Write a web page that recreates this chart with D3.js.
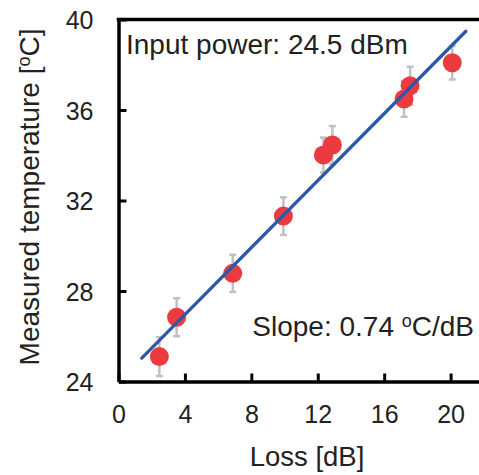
<!DOCTYPE html>
<html lang="en">
<head>
    <meta charset="UTF-8">
    <title>Temperature vs loss</title>
    <script src="https://d3js.org/d3.v7.min.js"></script>
    <style>
        body { margin: 0; background: #fff; }
        text { font-family: "Liberation Sans", Arial, sans-serif; fill: #222; }
        .axis path, .axis line { stroke: #000; }
    </style>
</head>
<body>
    <div id="chart"></div>
    <script>
        // values
        const loss = [2.46, 3.5, 6.88, 9.93, 12.34, 12.88, 17.2, 17.56, 20.1];
        const temp = [25.1, 26.84, 28.78, 31.31, 34.01, 34.45, 36.49, 37.07, 38.09];
        const err = [0.86, 0.84, 0.82, 0.83, 0.77, 0.84, 0.79, 0.84, 0.74];
        const xTicks = [0, 4, 8, 12, 16, 20];
        const yTicks = [24, 28, 32, 36, 40];
        // linear fit drawn in the figure
        const fitRange = [1.4, 20.92];
        const fitSlope = 0.74;
        const fitIntercept = 24.0;

        const W = 479, H = 475;
        const svg = d3.select("#chart").append("svg")
            .attr("width", W).attr("height", H);

        // x runs past the right edge, the original figure is cropped there
        const x = d3.scaleLinear().domain([0, 22]).range([118.5, 483.8]);
        const y = d3.scaleLinear().domain([24, 40]).range([381.5, 19.5]);

        // axes with inward ticks
        const xAxis = svg.append("g")
            .attr("class", "axis")
            .attr("transform", "translate(0," + y(24) + ")")
            .call(d3.axisBottom(x).tickValues(xTicks).tickSizeInner(-8).tickSizeOuter(0).tickPadding(24));
        const yAxis = svg.append("g")
            .attr("class", "axis")
            .attr("transform", "translate(" + x(0) + ",0)")
            .call(d3.axisLeft(y).tickValues(yTicks).tickSizeInner(-8).tickSizeOuter(0).tickPadding(25));

        [xAxis, yAxis].forEach(function(g) {
            g.select(".domain").attr("stroke-width", 3.5);
            g.selectAll(".tick line").attr("stroke-width", 3);
            g.selectAll(".tick text").attr("font-size", 25).style("font-family", "Liberation Sans, Arial, sans-serif").attr("fill", "#222");
        });
        yAxis.selectAll(".tick text").attr("dy", "0.36em");

        // top frame line
        svg.append("line")
            .attr("x1", x(0) - 1.75).attr("x2", x(22))
            .attr("y1", y(40)).attr("y2", y(40))
            .attr("stroke", "#000").attr("stroke-width", 3.5);

        const pts = loss.map(function(d, i) { return {x: d, y: temp[i], e: err[i]}; });

        // error bars
        const eb = svg.append("g").attr("stroke", "#c0c0c0").attr("stroke-width", 2.5);
        pts.forEach(function(p) {
            eb.append("line")
                .attr("x1", x(p.x)).attr("x2", x(p.x))
                .attr("y1", y(p.y - p.e)).attr("y2", y(p.y + p.e));
            [p.y - p.e, p.y + p.e].forEach(function(v) {
                eb.append("line")
                    .attr("x1", x(p.x) - 3.5).attr("x2", x(p.x) + 3.5)
                    .attr("y1", y(v)).attr("y2", y(v));
            });
        });

        // data points
        svg.append("g").selectAll("circle")
            .data(pts)
            .join("circle")
            .attr("cx", function(d) { return x(d.x); })
            .attr("cy", function(d) { return y(d.y); })
            .attr("r", 9.5)
            .attr("fill", "#ec3b40");

        // fit line
        const line = d3.line()
            .x(function(d) { return x(d); })
            .y(function(d) { return y(fitIntercept + fitSlope * d); });
        svg.append("path")
            .datum(fitRange)
            .attr("d", line)
            .attr("fill", "none")
            .attr("stroke", "#2b58a8")
            .attr("stroke-width", 3.3)
            .attr("stroke-linecap", "round");

        // annotations
        svg.append("text")
            .attr("x", 126).attr("y", 54)
            .attr("font-size", 28)
            .text("Input power: 24.5 dBm");

        const slope = svg.append("text")
            .attr("x", 474).attr("y", 336)
            .attr("text-anchor", "end")
            .attr("font-size", 28);
        slope.append("tspan").text("Slope: 0.74 ");
        slope.append("tspan").attr("font-size", 18).attr("dy", -9).text("o");
        slope.append("tspan").attr("dy", 9).text("C/dB");

        // axis titles
        svg.append("text")
            .attr("x", 307).attr("y", 466)
            .attr("text-anchor", "middle")
            .attr("font-size", 27.5)
            .text("Loss [dB]");

        const yt = svg.append("text")
            .attr("transform", "translate(39,197) rotate(-90)")
            .attr("text-anchor", "middle")
            .attr("font-size", 28);
        yt.append("tspan").text("Measured temperature [");
        yt.append("tspan").attr("font-size", 18).attr("dy", -9).text("o");
        yt.append("tspan").attr("dy", 9).text("C]");
    </script>
</body>
</html>
